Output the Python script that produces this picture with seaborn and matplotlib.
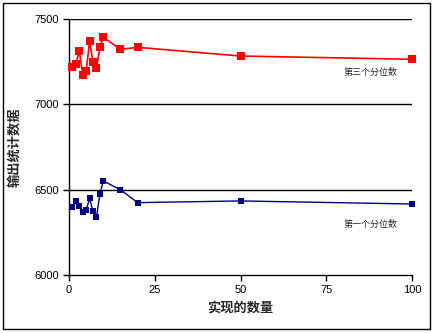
import matplotlib
matplotlib.use("Agg")
import matplotlib.pyplot as plt
import matplotlib.patches as mpatches
import seaborn as sns
import pandas as pd

# Number of realizations and the quantile estimates at each
realizations = [1, 2, 3, 4, 5, 6, 7, 8, 9, 10, 15, 20, 50, 100]
third_quartile = [7217, 7236, 7314, 7170, 7193, 7369, 7246, 7211, 7334, 7394,
                  7322, 7334, 7283, 7264]
first_quartile = [6398, 6432, 6406, 6367, 6379, 6449, 6373, 6338, 6473, 6551,
                  6500, 6424, 6434, 6416]
series_names = ["第三个分位数", "第一个分位数"]
x_ticks = [0, 25, 50, 75, 100]
y_ticks = [6000, 6500, 7000, 7500]
x_label = "实现的数量"
y_label = "输出统计数据"

df = pd.DataFrame({
    "n": realizations * 2,
    "value": third_quartile + first_quartile,
    "series": [series_names[0]] * len(realizations) + [series_names[1]] * len(realizations),
})

sns.set_theme(style="white")
plt.rcParams["font.family"] = ["Liberation Sans", "Noto Sans CJK SC"]
cjk = ["Noto Sans CJK SC", "DejaVu Sans"]

W, H = 434, 333
fig = plt.figure(figsize=(W / 100, H / 100), dpi=100)
fig.patch.set_facecolor("white")
ax = fig.add_axes([69 / W, (H - 275) / H, (412 - 69) / W, (275 - 19) / H])

palette = {series_names[0]: "#FF0000", series_names[1]: "#000080"}
for name, lw, ms in [(series_names[0], 1.2, 5.5), (series_names[1], 1.0, 5.0)]:
    sub = df[df["series"] == name]
    sns.lineplot(data=sub, x="n", y="value", ax=ax, color=palette[name],
                 marker="s", markersize=ms, markeredgewidth=0, linewidth=lw,
                 legend=False, clip_on=False, zorder=3)

ax.set_xlim(0, 100)
ax.set_ylim(6000, 7500)
ax.set_xticks(x_ticks)
ax.set_yticks(y_ticks)
ax.set_xticklabels([str(t) for t in x_ticks])
ax.set_yticklabels([str(t) for t in y_ticks])
ax.tick_params(axis="both", which="major", direction="out", length=4, width=1,
               color="black", labelsize=8, labelcolor="black", pad=3,
               bottom=True, left=True)

for y in y_ticks[1:]:
    ax.axhline(y, color="black", linewidth=1.0, zorder=1)

for side in ["top", "right"]:
    ax.spines[side].set_visible(False)
for side in ["left", "bottom"]:
    ax.spines[side].set_color("black")
    ax.spines[side].set_linewidth(1.0)

ax.set_xlabel(x_label, family=cjk, fontsize=9.5, fontweight="bold", labelpad=4)
ax.set_ylabel(y_label, family=cjk, fontsize=9.5, fontweight="bold", labelpad=10)

ax.text(80, 7185, series_names[0], family=cjk, fontsize=6.5, va="center", ha="left")
ax.text(80, 6299, series_names[1], family=cjk, fontsize=6.5, va="center", ha="left")

# Outer frame around the chart
fig.patches.append(mpatches.Rectangle((3 / W, 4 / H), 427 / W, 326 / H,
                                      transform=fig.transFigure, fill=False,
                                      edgecolor="black", linewidth=1.0))

fig.savefig("out.png", dpi=100, facecolor="white")
